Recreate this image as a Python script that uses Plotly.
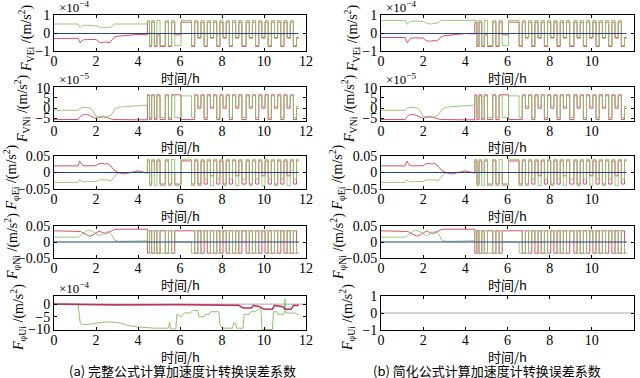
import plotly.graph_objects as go

W, H = 640, 378

# ---------------- data ----------------
# shared rotation switching times (h) after 4.45 h
sw_t = [4.45, 4.55, 4.65, 4.78, 4.9, 5.05, 5.3, 5.45, 5.6, 5.75,
        6.05, 6.55, 6.7, 6.85, 7.0, 7.15, 7.3, 7.45, 7.6, 7.75,
        7.9, 8.05, 8.2, 8.35, 8.5, 8.65, 8.8, 8.95, 9.15, 9.3,
        9.45, 9.6, 9.75, 9.9, 10.05, 10.2, 10.35, 10.5, 10.65, 10.8,
        10.95, 11.1, 11.25, 11.4, 11.55, 11.65]

# Row 1: F_VE (x1e-4)
ve_pre_t = [0, 1.15, 1.2, 1.25, 1.3, 1.4, 1.6, 1.8, 2.0, 2.1, 2.2, 2.35, 2.5, 2.65, 2.75, 2.85, 3.0, 3.5, 4.0, 4.44]
ve_g_pre_a = [0.5, 0.5, 0.38, 0.3, 0.36, 0.42, 0.43, 0.42, 0.42, 0.38, 0.3, 0.28, 0.3, 0.3, 0.36, 0.5, 0.5, 0.5, 0.5, 0.5]
ve_r_pre_a = [-0.3, -0.3, -0.45, -0.55, -0.45, -0.38, -0.36, -0.35, -0.36, -0.45, -0.55, -0.52, -0.5, -0.55, -0.4, -0.25, -0.18, -0.12, -0.08, -0.1]
ve_g_pre_b = [0.7, 0.7, 0.55, 0.48, 0.58, 0.65, 0.66, 0.65, 0.64, 0.58, 0.52, 0.5, 0.52, 0.55, 0.6, 0.7, 0.7, 0.7, 0.7, 0.7]
ve_r_pre_b = [-0.25, -0.25, -0.45, -0.55, -0.45, -0.3, -0.27, -0.26, -0.28, -0.38, -0.45, -0.45, -0.42, -0.45, -0.35, -0.22, -0.15, -0.08, -0.03, -0.05]
ve_g_post = [0.7, -0.7, 0.7, -0.7, 0.7, -0.7, 0.7, -0.7, 0.7, -0.7,
             0.7, -0.7, 0.7, -0.3, 0.7, -0.7, 0.7, -0.3, 0.7, -0.7,
             0.7, -0.3, 0.7, -0.7, 0.7, -0.3, 0.7, -0.7, 0.7, -0.3,
             0.7, -0.7, 0.7, -0.3, 0.7, -0.7, 0.7, -0.3, 0.7, -0.7,
             0.7, -0.3, 0.7, -0.7, -0.3, -0.3]
ve_r_post = [0.6, -0.75, 0.6, -0.75, -0.1, -0.75, 0.6, -0.75, 0.6, -0.1,
             0.6, -0.75, 0.6, -0.25, 0.6, -0.75, 0.6, -0.25, 0.6, -0.75,
             0.6, -0.25, 0.6, -0.75, 0.6, -0.25, 0.6, -0.75, 0.6, -0.25,
             0.6, -0.75, 0.6, -0.25, 0.6, -0.75, 0.6, -0.25, 0.6, -0.75,
             0.6, -0.25, 0.6, -0.75, -0.25, -0.25]
ve_blue_t = [0, 11.65]
ve_blue = [-0.03, -0.03]

# Row 2: F_VN (x1e-5)
vn_pre_t = [0, 1.15, 1.2, 1.3, 1.45, 1.6, 1.75, 1.9, 2.0, 2.1, 2.3, 2.5, 2.7, 2.9, 3.1, 3.4, 3.8, 4.1, 4.44]
vn_g_pre = [-1, -1, -0.5, 0.2, 0.5, 0.3, 0, -2, -4, -4.2, -3.8, -4.3, -3.5, -0.5, 0.5, 0.8, 1.0, 1.3, 1.5]
vn_r_pre = [-5.5, -5.5, -4.5, -3.5, -3.0, -3.2, -3.8, -4.5, -5, -4.5, -4.2, -4.5, -5.2, -5.5, -5.6, -5.6, -5.6, -5.6, -5.6]
vn_g_post = [6, -4.5, 6, -4.5, 6, -4.5, 6, -4.5, 6, -4.5,
             6, -4.5, 6, 1, 6, -4.5, 6, 1, 6, -4.5,
             6, 1, 6, -4.5, 6, 1, 6, -4.5, 6, 1,
             6, -4.5, 6, 1, 6, -4.5, 6, 1, 6, -4.5,
             6, 1, 6, -4.5, 1, 1]
vn_r_post = [6.5, -5.5, 6.5, -5.5, 6.5, -5.5, 6.5, -5.5, 6.5, 6.5,
             -5.5, -5.5, 6.5, 0, 6.5, -5.5, 6.5, 0, 6.5, -5.5,
             6.5, 0, 6.5, -5.5, 6.5, 0, 6.5, -5.5, 6.5, 0,
             6.5, -5.5, 6.5, 0, 6.5, -5.5, 6.5, 0, 6.5, -5.5,
             6.5, 0, 6.5, -5.5, 0, 0]

# Row 3: F_phiE
pe_pre_t = [0, 1.15, 1.22, 1.28, 1.35, 1.5, 1.8, 2.0, 2.1, 2.25, 2.4, 2.55, 2.7, 2.85, 3.0, 3.2, 3.4, 3.6, 3.8, 4.0, 4.2, 4.44]
pe_r_pre = [0.02, 0.02, 0.035, 0.03, 0.022, 0.02, 0.02, 0.021, 0.025, 0.028, 0.026, 0.027, 0.02, 0.008, 0.002, -0.003, -0.004, -0.001, 0.003, 0.005, 0.002, -0.002]
pe_g_pre = [-0.03, -0.03, -0.022, -0.026, -0.028, -0.028, -0.028, -0.027, -0.024, -0.022, -0.023, -0.022, -0.026, -0.015, -0.003, -0.001, 0, 0, 0, 0.001, 0, 0]
pe_g_post = [0.04, -0.04, 0.04, -0.04, 0.04, -0.04, 0.04, -0.04, 0.04, -0.04,
             0.04, -0.04, 0.04, -0.04, 0.04, -0.02, 0.04, -0.04, 0.04, -0.02,
             0.04, -0.04, 0.04, -0.02, 0.04, -0.04, 0.04, -0.02, 0.04, -0.04,
             0.04, -0.02, 0.04, -0.04, 0.04, -0.02, 0.04, -0.04, 0.04, -0.02,
             0.04, -0.04, 0.04, -0.02, 0.04, 0.04]
pe_r_post = [0.035, -0.035, 0.035, 0.0, 0.035, -0.035, 0.035, -0.035, 0.0, -0.035,
             0.035, -0.035, 0.035, -0.035, 0.035, -0.035, 0.035, -0.01, 0.035, -0.035,
             0.035, -0.035, 0.035, -0.035, 0.035, -0.01, 0.035, -0.035, 0.035, -0.035,
             0.035, -0.035, 0.035, -0.01, 0.035, -0.035, 0.035, -0.035, 0.035, -0.035,
             0.035, -0.01, 0.035, -0.035, 0.035, 0.035]
pe_blue_t = [0, 11.65]
pe_blue = [0.0, 0.0]

# Row 4: F_phiN
pn_pre_t = [0, 1.15, 1.25, 1.35, 1.45, 1.55, 1.7, 1.85, 2.0, 2.15, 2.3, 2.45, 2.6, 2.75, 2.9, 3.1, 3.5, 4.0, 4.44]
pn_r_pre = [0.035, 0.035, 0.033, 0.03, 0.026, 0.022, 0.018, 0.022, 0.028, 0.034, 0.03, 0.026, 0.03, 0.036, 0.04, 0.04, 0.04, 0.04, 0.04]
pn_g_pre = [0.015, 0.015, 0.02, 0.026, 0.032, 0.035, 0.036, 0.033, 0.026, 0.02, 0.024, 0.03, 0.034, 0.022, 0.005, 0.002, 0.003, 0.004, 0.004]
pn_g_post = [0.035, -0.035, 0.035, -0.035, 0.035, -0.035, 0.035, -0.035, 0.035, 0.0,
             0.0, -0.035, 0.035, -0.035, 0.035, 0.0, 0.035, -0.035, 0.035, -0.035,
             0.035, 0.0, 0.035, -0.035, 0.035, -0.035, 0.035, 0.0, 0.035, -0.035,
             0.035, -0.035, 0.035, 0.0, 0.035, -0.035, 0.035, -0.035, 0.035, 0.0,
             0.035, -0.035, 0.035, -0.035, 0.0, 0.0]
pn_r_post = [-0.035, 0.035, -0.035, 0.035, -0.035, 0.035, -0.035, 0.035, -0.035, 0.035,
             0.035, 0.035, -0.035, 0.035, -0.035, 0.035, -0.035, 0.035, -0.035, 0.035,
             -0.035, 0.035, -0.035, 0.035, -0.035, 0.035, -0.035, 0.035, -0.035, 0.035,
             -0.035, 0.035, -0.035, 0.035, -0.035, 0.035, -0.035, 0.035, -0.035, 0.035,
             -0.035, 0.035, -0.035, 0.035, -0.035, -0.035]
pn_blue_t = [0, 11.65]
pn_blue = [0.0, 0.0]

# Row 5 (a): F_phiU (x1e-4)
pu_g_t = [0, 1.15, 1.2, 1.25, 1.35, 1.6, 2.0, 2.5, 3.0, 3.3,
          3.6, 4.0, 4.4, 4.8, 5.2, 5.45, 5.5, 5.55, 5.6, 5.8,
          5.85, 6.0, 6.05, 6.2, 6.5, 6.6, 6.85, 6.9, 7.15, 7.2,
          7.4, 7.45, 7.85, 7.9, 8.0, 8.5, 8.55, 8.65, 8.7, 9.0,
          9.05, 9.3, 9.35, 9.6, 9.65, 9.85, 9.9, 10.4, 10.45, 10.6,
          10.65, 10.95, 11.0, 11.05, 11.1, 11.5, 11.55, 11.65]
pu_g = [0, 0, -4, -7.5, -8, -8, -7.5, -7, -7.2, -8,
        -8.5, -9, -9.3, -9.5, -9.5, -9.5, -7, -9.8, -9.8, -9.8,
        -4, -5, -5, -3.5, -3.5, -2.5, -2.5, -5, -5, -4,
        -4, -3, -3, -8, -9.5, -9.5, -7.5, -7.5, -9.5, -9.5,
        -4, -4, -3, -3, -2.5, -1.5, -10, -10, -3, -3,
        -4, -4, 2, -3.5, -3.5, -3.5, -4, -4]
pu_r_t = [0, 1.1, 2, 3, 4, 5, 6, 7, 8, 8.8, 9.0, 9.4, 9.5, 9.8, 10.0, 10.4, 10.5, 10.9, 11.0, 11.3, 11.4, 11.65]
pu_r = [0, 0, -0.2, -0.3, -0.2, -0.3, -0.2, -0.3, -0.3, -0.5, -1.5, -1.5, -0.5, -1, -2, -2, -0.5, -1, -2, -2, -0.5, -0.5]
zero_t = [0, 12]
zero_v = [0, 0]

# ---------------- style ----------------
GREEN = '#8fc26e'
RED = '#d6506f'
BLUE = '#27408b'
GRAY = '#a8a8a8'
SERIF = 'Liberation Serif, Times New Roman, serif'
CJK = 'Noto Sans CJK SC, sans-serif'

col_px = [(54, 306), (381, 634)]
row_px = [(15, 51), (87, 121), (156, 189), (226, 258), (296, 330)]


def steps(pre_t, pre_v, post_t=None, post_v=None):
    xs, ys = list(pre_t), list(pre_v)
    if post_t is not None:
        prev = ys[-1]
        for t, v in zip(post_t, post_v):
            xs += [t, t]
            ys += [prev, v]
            prev = v
    return xs, ys


fig = go.Figure()


def add(k, xy, color, width=1.0, opacity=1.0):
    xs, ys = xy
    fig.add_trace(go.Scatter(x=xs, y=ys, mode='lines', opacity=opacity,
                             line=dict(color=color, width=width),
                             xaxis='x' if k == 1 else f'x{k}',
                             yaxis='y' if k == 1 else f'y{k}',
                             showlegend=False, hoverinfo='skip'))


for c in range(2):
    base = c + 1
    k = base
    gpre = ve_g_pre_a if c == 0 else ve_g_pre_b
    rpre = ve_r_pre_a if c == 0 else ve_r_pre_b
    add(k, steps(ve_pre_t, rpre, sw_t, ve_r_post), RED)
    add(k, steps(ve_pre_t, gpre, sw_t, ve_g_post), GREEN, opacity=0.9)
    add(k, steps(ve_blue_t, ve_blue), BLUE)
    k = base + 2
    add(k, steps(vn_pre_t, vn_r_pre, sw_t, vn_r_post), RED)
    add(k, steps(vn_pre_t, vn_g_pre, sw_t, vn_g_post), GREEN, opacity=0.9)
    k = base + 4
    add(k, steps(pe_pre_t, pe_r_pre, sw_t, pe_r_post), RED)
    add(k, steps(pe_pre_t, pe_g_pre, sw_t, pe_g_post), GREEN, opacity=0.9)
    add(k, steps(pe_blue_t, pe_blue), BLUE)
    k = base + 6
    add(k, steps(pn_pre_t, pn_r_pre, sw_t, pn_r_post), RED)
    add(k, steps(pn_pre_t, pn_g_pre, sw_t, pn_g_post), GREEN, opacity=0.9)
    add(k, steps(pn_blue_t, pn_blue), BLUE)
    k = base + 8
    add(k, steps(zero_t, zero_v), GRAY)
    if c == 0:
        add(k, steps(pu_g_t, pu_g), GREEN)
        add(k, steps(pu_r_t, pu_r), RED, width=1.6)
        add(k, steps(pu_r_t, pu_r), '#7a2a55', width=0.6)

yranges = [[-1, 1], [-6.2, 10.3], [-0.05, 0.05], [-0.05, 0.05]]
yticks = [[-1, 0, 1], [-5, 0, 5, 10], [-0.05, 0, 0.05], [-0.05, 0, 0.05]]
ylabels = ['VEi', 'VNi', 'φEi', 'φNi', 'φUi']
ytitle_x = [[26, 22, 12, 12, 18], [352, 349, 338, 338, 347]]

layout = dict(width=W, height=H, margin=dict(l=0, r=0, t=0, b=0, autoexpand=False),
              paper_bgcolor='white', plot_bgcolor='white', showlegend=False)
ann = []
axis_common = dict(showline=True, linecolor='black', linewidth=1, mirror='ticks',
                   ticks='inside', ticklen=3, tickcolor='black', showgrid=False,
                   zeroline=False, automargin=False,
                   tickfont=dict(family=SERIF, size=14, color='black'))
for r in range(5):
    for c in range(2):
        k = r * 2 + c + 1
        x0, x1 = col_px[c]
        y0, y1 = row_px[r]
        xs = '' if k == 1 else str(k)
        layout['xaxis' + xs] = dict(axis_common, domain=[x0 / W, x1 / W], anchor='y' + xs,
                                    range=[0, 12], tickvals=[0, 2, 4, 6, 8, 10, 12],
                                    ticklabelstandoff=-3)
        if r < 4:
            yr, yt = yranges[r], yticks[r]
        elif c == 0:
            yr, yt = [-10.2, 3.2], [-10, -5, 0]
        else:
            yr, yt = [-1, 1], [-1, 0, 1]
        layout['yaxis' + xs] = dict(axis_common, domain=[1 - y1 / H, 1 - y0 / H], anchor='x' + xs,
                                    range=yr, tickvals=yt)
        ann.append(dict(text='时间/h', x=(x0 + x1) / 2 / W, y=1 - (y1 + 26) / H,
                        xref='paper', yref='paper', showarrow=False,
                        xanchor='center', yanchor='middle',
                        font=dict(family=CJK, size=13, color='black')))
        ann.append(dict(text=f'<i>F</i><sub>{ylabels[r]}</sub> /(m/s<sup>2</sup>)',
                        x=ytitle_x[c][r] / W, y=1 - ((y0 + y1) / 2 + 5) / H,
                        xref='paper', yref='paper', showarrow=False, textangle=-90,
                        xanchor='center', yanchor='middle',
                        font=dict(family=SERIF, size=14, color='black')))
        mult = None
        if r == 0 or (r == 4 and c == 0):
            mult = '×10<sup>−4</sup>'
        elif r == 1:
            mult = '×10<sup>−5</sup>'
        if mult:
            ann.append(dict(text=mult, x=(x0 + 3) / W, y=1 - (y0 - 8) / H,
                            xref='paper', yref='paper', showarrow=False,
                            xanchor='left', yanchor='middle',
                            font=dict(family=SERIF, size=13, color='black')))

ann.append(dict(text='(a) 完整公式计算加速度计转换误差系数', x=182 / W, y=1 - 370 / H,
                xref='paper', yref='paper', showarrow=False, xanchor='center', yanchor='middle',
                font=dict(family=CJK, size=13, color='black')))
ann.append(dict(text='(b) 简化公式计算加速度计转换误差系数', x=487 / W, y=1 - 370 / H,
                xref='paper', yref='paper', showarrow=False, xanchor='center', yanchor='middle',
                font=dict(family=CJK, size=13, color='black')))
layout['annotations'] = ann
fig.update_layout(**layout)
fig.write_html('out.html', config={'displayModeBar': False, 'staticPlot': True})

# remove the browser's default body margin so the 640x378 figure sits at the window origin
with open('out.html', encoding='utf-8') as f:
    html = f.read()
html = html.replace('<head>', '<head><style>html,body{margin:0;padding:0;overflow:hidden;}</style>', 1)
with open('out.html', 'w', encoding='utf-8') as f:
    f.write(html)
